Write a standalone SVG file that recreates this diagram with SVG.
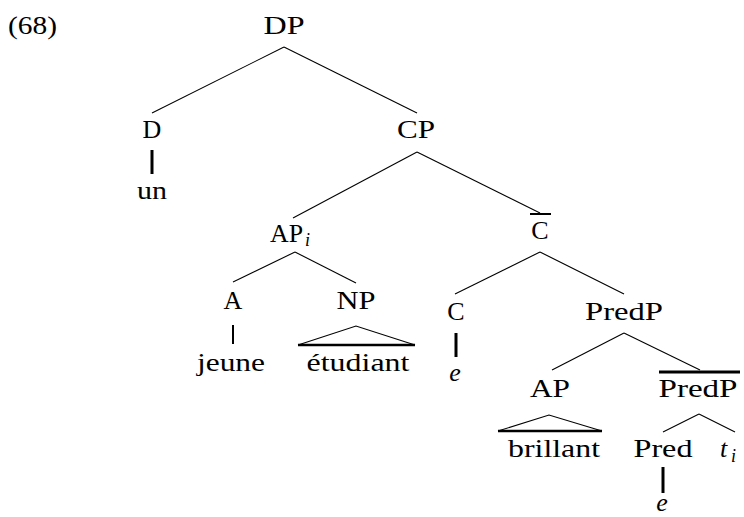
<svg xmlns="http://www.w3.org/2000/svg" width="744" height="517" viewBox="0 0 744 517">
<style>
text{font-family:"Liberation Serif","DejaVu Serif","Times New Roman",serif;font-size:26px;fill:#000}
.m{text-anchor:middle}
.it{font-style:italic}
.sub{font-size:18px;font-style:italic}
.edge{stroke:#000;stroke-width:1.1;fill:none}
.bar{stroke:#000;stroke-width:3;fill:none}
.tri{stroke:#000;stroke-width:1.1;fill:none}
.base{stroke:#000;stroke-width:2.5;fill:none}
</style>
<rect width="744" height="517" fill="#fff"/>
<g font-family="Liberation Serif, DejaVu Serif, serif">
<text x="8" y="34" textLength="49" lengthAdjust="spacingAndGlyphs">(68)</text>
<g id="connectors">
<line class="edge" x1="284" y1="47" x2="152" y2="113"/>
<line class="edge" x1="284" y1="47" x2="417" y2="113"/>
<line class="edge" x1="417" y1="152" x2="293" y2="218"/>
<line class="edge" x1="417" y1="152" x2="540" y2="213"/>
<line class="edge" x1="295" y1="252" x2="233" y2="282"/>
<line class="edge" x1="295" y1="252" x2="356" y2="283"/>
<line class="edge" x1="540" y1="252" x2="455" y2="294"/>
<line class="edge" x1="540" y1="252" x2="624" y2="294"/>
<line class="edge" x1="624" y1="333" x2="552" y2="370"/>
<line class="edge" x1="624" y1="333" x2="700" y2="370"/>
<line class="edge" x1="699" y1="414" x2="663" y2="432"/>
<line class="edge" x1="699" y1="414" x2="735" y2="432"/>
<line class="bar" x1="152" y1="150" x2="152" y2="174"/>
<line class="edge" style="stroke-width:2" x1="233" y1="325" x2="233" y2="344"/>
<line class="bar" x1="456" y1="333" x2="456" y2="357"/>
<line class="bar" x1="663" y1="467" x2="663" y2="493"/>
<polyline class="tri" points="298,345 356,326 415,345"/>
<line class="base" x1="298" y1="345" x2="415" y2="345"/>
<polyline class="tri" points="498,431 549,415 602,431"/>
<line class="base" x1="498" y1="431" x2="602" y2="431"/>
</g>
<g id="DP"><text class="m" x="284" y="34" textLength="41" lengthAdjust="spacingAndGlyphs">DP</text></g>
<g id="D"><text class="m" x="152" y="138">D</text></g>
<g id="un"><text class="m" x="152" y="199" textLength="30" lengthAdjust="spacingAndGlyphs">un</text></g>
<g id="CP"><text class="m" x="416" y="138" textLength="38" lengthAdjust="spacingAndGlyphs">CP</text></g>
<g id="APi"><text x="270" y="242" textLength="33" lengthAdjust="spacingAndGlyphs">AP</text><text class="sub" x="305" y="246">i</text></g>
<g id="Cbar"><text class="m" x="540" y="239">C</text><line x1="530" y1="214" x2="551" y2="214" stroke="#000" stroke-width="2"/></g>
<g id="A"><text class="m" x="233" y="309">A</text></g>
<g id="NP"><text class="m" x="356" y="309" textLength="39" lengthAdjust="spacingAndGlyphs">NP</text></g>
<g id="jeune"><text class="m" x="231" y="371" textLength="68" lengthAdjust="spacingAndGlyphs">jeune</text></g>
<g id="etudiant"><text class="m" x="358" y="371" textLength="103" lengthAdjust="spacingAndGlyphs">étudiant</text></g>
<g id="C"><text class="m" x="456" y="320">C</text></g>
<g id="e1"><text class="m it" x="455" y="381">e</text></g>
<g id="PredP"><text class="m" x="624" y="320" textLength="78" lengthAdjust="spacingAndGlyphs">PredP</text></g>
<g id="AP"><text class="m" x="550" y="397" textLength="40" lengthAdjust="spacingAndGlyphs">AP</text></g>
<g id="PredPbar"><text class="m" x="698" y="397" textLength="79" lengthAdjust="spacingAndGlyphs">PredP</text><line x1="659" y1="372" x2="740" y2="372" stroke="#000" stroke-width="3"/></g>
<g id="brillant"><text class="m" x="554" y="457" textLength="92" lengthAdjust="spacingAndGlyphs">brillant</text></g>
<g id="Pred"><text class="m" x="663" y="457" textLength="59" lengthAdjust="spacingAndGlyphs">Pred</text></g>
<g id="ti"><text class="it" x="720" y="457">t</text><text class="sub" x="731" y="462">i</text></g>
<g id="e2"><text class="m it" x="662" y="511">e</text></g>
</g>
</svg>
